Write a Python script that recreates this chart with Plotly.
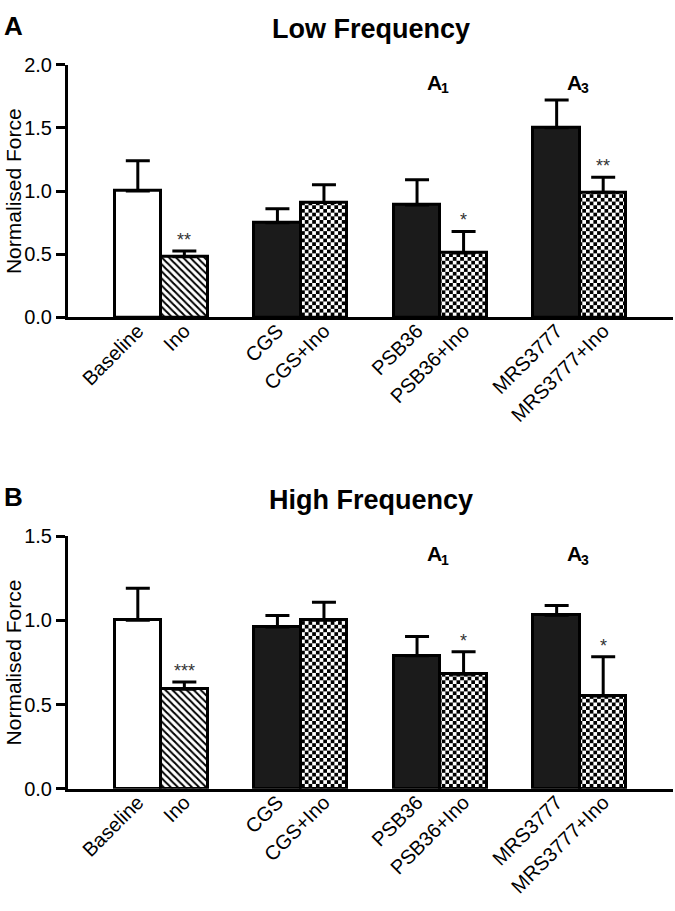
import plotly.graph_objects as go

# ---------------- data ----------------
categories = ["Baseline", "Ino", "CGS", "CGS+Ino", "PSB36", "PSB36+Ino", "MRS3777", "MRS3777+Ino"]
group_index = [0, 0, 1, 1, 2, 2, 3, 3]
slot_index = [0, 1, 0, 1, 0, 1, 0, 1]
fill_style = ["open", "hatch", "solid", "checker", "solid", "checker", "solid", "checker"]

low_mean = [1.00, 0.48, 0.75, 0.91, 0.89, 0.51, 1.50, 0.99]
low_sem = [0.24, 0.045, 0.11, 0.14, 0.20, 0.17, 0.22, 0.12]
low_stars = ["", "**", "", "", "", "*", "", "**"]

high_mean = [1.00, 0.59, 0.96, 1.00, 0.79, 0.68, 1.03, 0.55]
high_sem = [0.19, 0.043, 0.068, 0.107, 0.114, 0.133, 0.058, 0.234]
high_stars = ["", "***", "", "", "", "*", "", "*"]

receptor_main = ["A", "A"]
receptor_sub = ["1", "3"]
receptor_groups = [2, 3]

panels = [
    {"letter": "A", "title": "Low Frequency", "mean": low_mean, "sem": low_sem,
     "stars": low_stars, "ymax": 2.0},
    {"letter": "B", "title": "High Frequency", "mean": high_mean, "sem": high_sem,
     "stars": high_stars, "ymax": 1.5},
]

# ---------------- styling ----------------
FONT = "Arial, Liberation Sans, Helvetica, sans-serif"
NARROW = "Liberation Sans Narrow, Arial Narrow, Arial, Liberation Sans, sans-serif"
W, H = 675, 911
x_pos = [3 * g + s for g, s in zip(group_index, slot_index)]

style_defs = {
    "open": dict(color="white", pattern=dict(shape="")),
    "hatch": dict(color="white", pattern=dict(shape="\\", fgcolor="black", bgcolor="white",
                                              size=5, solidity=0.4, fillmode="replace")),
    "solid": dict(color="#1b1b1b", pattern=dict(shape="")),
    "checker": dict(color="white", pattern=dict(shape=".", fgcolor="black", bgcolor="white",
                                                size=7, solidity=0.5, fillmode="replace")),
}

x_left_px, x_right_px = 68, 673
panel_px = [(55, 314), (538, 797)]  # (top, bottom) of each plot area

fig = go.Figure()
annotations = []
shapes = []

for i, p in enumerate(panels):
    n = "" if i == 0 else str(i + 1)
    xa, ya = "x" + n, "y" + n
    for style, sd in style_defs.items():
        idx = [k for k, s in enumerate(fill_style) if s == style]
        fig.add_trace(go.Bar(
            x=[x_pos[k] for k in idx], y=[p["mean"][k] for k in idx], width=1.0,
            xaxis=xa, yaxis=ya,
            marker=dict(color=sd["color"], line=dict(color="black", width=3),
                        pattern=sd["pattern"]),
            error_y=dict(type="data", symmetric=False,
                         array=[p["sem"][k] for k in idx],
                         arrayminus=[0] * len(idx),
                         color="black", thickness=3, width=12),
            showlegend=False, hoverinfo="skip",
        ))
    top, bot = panel_px[i]
    dom = [1 - bot / H, 1 - top / H]
    fig.update_layout(**{
        ("xaxis" + n): dict(
            domain=[x_left_px / W, x_right_px / W], anchor=ya,
            range=[-1.5, 11.5], tickvals=x_pos, ticktext=categories,
            tickangle=-45, ticks="", ticklabelstandoff=-9,
            showline=True, linecolor="black",
            linewidth=3, showgrid=False, zeroline=False,
            tickfont=dict(family=FONT, size=20, color="black"),
            fixedrange=True,
        ),
        ("yaxis" + n): dict(
            domain=dom, anchor=xa, range=[0, p["ymax"]], dtick=0.5,
            tickformat=".1f", ticks="outside", ticklen=9, tickwidth=3,
            tickcolor="black", showline=True, linecolor="black", linewidth=3,
            showgrid=False, zeroline=False,
            tickfont=dict(family=NARROW, size=20, color="black"),
            fixedrange=True,
        ),
    })
    # stray tick below the axis between CGS+Ino and PSB36
    shapes.append(dict(type="line", xref=xa, yref=ya, x0=4.5, x1=4.5,
                       ysizemode="pixel", yanchor=0, y0=0, y1=-13,
                       line=dict(color="black", width=2)))
    annotations.append(dict(text="Normalised Force", textangle=-90,
                            xref="paper", x=13 / W, xanchor="center",
                            yref=ya + " domain", y=0.5, yanchor="middle",
                            showarrow=False,
                            font=dict(family=FONT, size=21, color="black")))
    annotations.append(dict(text="<b>" + p["title"] + "</b>",
                            xref=xa + " domain", x=0.5, xanchor="center",
                            yref="paper", y=1 - (top - 37) / H, yanchor="middle",
                            showarrow=False,
                            font=dict(family=FONT, size=27, color="black")))
    annotations.append(dict(text="<b>" + p["letter"] + "</b>",
                            xref="paper", x=2 / W, xanchor="left",
                            yref="paper", y=1 - (top - 40) / H, yanchor="middle",
                            showarrow=False,
                            font=dict(family=FONT, size=26, color="black")))
    # receptor labels: main letter plus a smaller subscript digit
    for lab, sub, g in zip(receptor_main, receptor_sub, receptor_groups):
        annotations.append(dict(text="<b>" + lab + "</b>",
                                xref=xa, x=3 * g + 0.5, xanchor="right", xshift=4,
                                yref=ya + " domain", y=0.93, yanchor="middle",
                                showarrow=False,
                                font=dict(family=FONT, size=21, color="black")))
        annotations.append(dict(text="<b>" + sub + "</b>",
                                xref=xa, x=3 * g + 0.5, xanchor="left", xshift=-1,
                                yref=ya + " domain", y=0.93, yanchor="middle", yshift=-6,
                                showarrow=False,
                                font=dict(family=FONT, size=14, color="black")))
    for xv, m, e, s in zip(x_pos, p["mean"], p["sem"], p["stars"]):
        if s:
            annotations.append(dict(text=s, xref=xa, x=xv, xanchor="center",
                                    yref=ya, y=m + e, yanchor="middle", yshift=11,
                                    showarrow=False,
                                    font=dict(family=FONT, size=18, color="#333333")))

fig.update_layout(
    width=W, height=H, margin=dict(l=0, r=0, t=0, b=0),
    paper_bgcolor="white", plot_bgcolor="white",
    barmode="overlay", bargap=0,
    annotations=annotations, shapes=shapes,
    font=dict(family=FONT, color="black"),
)

post_js = """
document.body.style.margin = '0';
document.body.style.padding = '0';
var cell = 3.7;
var ns = 'http://www.w3.org/2000/svg';
document.querySelectorAll('pattern').forEach(function(pat){
  if (!pat.querySelector('circle')) return;
  pat.setAttribute('width', 2*cell);
  pat.setAttribute('height', 2*cell);
  while (pat.firstChild) pat.removeChild(pat.firstChild);
  [[0,0,2*cell,2*cell,'#ffffff'],[0,0,cell,cell,'#000000'],[cell,cell,cell,cell,'#000000']].forEach(function(r){
    var e = document.createElementNS(ns, 'rect');
    e.setAttribute('x', r[0]); e.setAttribute('y', r[1]);
    e.setAttribute('width', r[2]); e.setAttribute('height', r[3]);
    e.setAttribute('fill', r[4]);
    pat.appendChild(e);
  });
});
"""

fig.write_html("out.html", config={"displayModeBar": False, "responsive": False},
               post_script=post_js)
